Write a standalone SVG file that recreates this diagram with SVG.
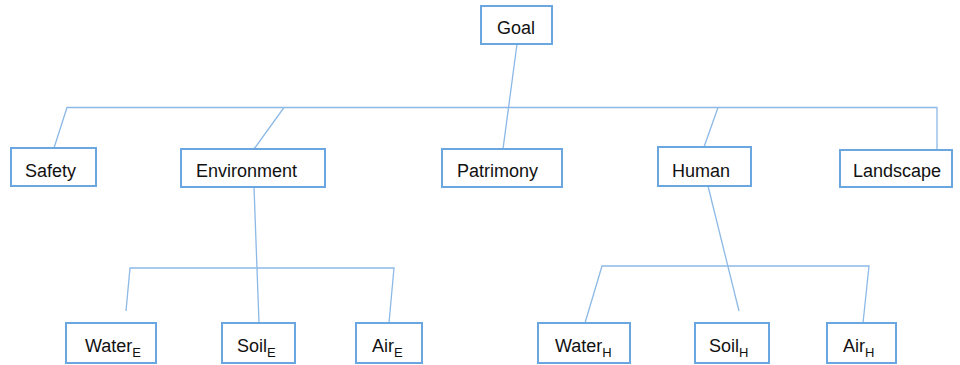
<svg xmlns="http://www.w3.org/2000/svg" width="960" height="365" viewBox="0 0 960 365">
<style>
.box{fill:#fff;stroke:#6aa6e0;stroke-width:2}
.lbl{font-family:"Liberation Sans",Arial,sans-serif;font-size:18px;fill:#111}
.sub{font-size:13px}
.ln{fill:none;stroke:#8cb9e6;stroke-width:1.3}
</style>
<rect width="960" height="365" fill="#fff"/>
<g id="connectors">
<line class="ln" x1="517" y1="44" x2="503" y2="149"/>
<polyline class="ln" points="54,148 67,107.5 937,107.5 937,150"/>
<line class="ln" x1="284" y1="107.5" x2="254" y2="149"/>
<line class="ln" x1="718" y1="107.5" x2="704" y2="147"/>
<line class="ln" x1="254" y1="187" x2="259" y2="323"/>
<polyline class="ln" points="126,311 130,268 394,268 389,323"/>
<line class="ln" x1="708" y1="186" x2="739" y2="311"/>
<polyline class="ln" points="585,323 602,266 869,266 863,323"/>
</g>
<g id="goal"><rect class="box" x="481" y="6" width="71" height="38"/><text class="lbl" x="497" y="34">Goal</text></g>
<g id="safety"><rect class="box" x="11" y="148" width="85" height="38"/><text class="lbl" x="25" y="177">Safety</text></g>
<g id="environment"><rect class="box" x="181" y="149" width="144" height="38"/><text class="lbl" x="196" y="177">Environment</text></g>
<g id="patrimony"><rect class="box" x="442" y="149" width="120" height="38"/><text class="lbl" x="457" y="177">Patrimony</text></g>
<g id="human"><rect class="box" x="658" y="147" width="93" height="39"/><text class="lbl" x="672" y="177">Human</text></g>
<g id="landscape"><rect class="box" x="840" y="150" width="112" height="37"/><text class="lbl" x="853" y="177">Landscape</text></g>
<g id="water-e"><rect class="box" x="66" y="323" width="90" height="40"/><text class="lbl" x="85" y="352">Water<tspan class="sub" dy="5">E</tspan></text></g>
<g id="soil-e"><rect class="box" x="222" y="323" width="73" height="40"/><text class="lbl" x="237" y="352">Soil<tspan class="sub" dy="5">E</tspan></text></g>
<g id="air-e"><rect class="box" x="356" y="323" width="66" height="40"/><text class="lbl" x="372" y="352">Air<tspan class="sub" dy="5">E</tspan></text></g>
<g id="water-h"><rect class="box" x="538" y="323" width="92" height="40"/><text class="lbl" x="555" y="352">Water<tspan class="sub" dy="5">H</tspan></text></g>
<g id="soil-h"><rect class="box" x="695" y="323" width="74" height="40"/><text class="lbl" x="709" y="352">Soil<tspan class="sub" dy="5">H</tspan></text></g>
<g id="air-h"><rect class="box" x="827" y="323" width="69" height="40"/><text class="lbl" x="843" y="352">Air<tspan class="sub" dy="5">H</tspan></text></g>
</svg>
